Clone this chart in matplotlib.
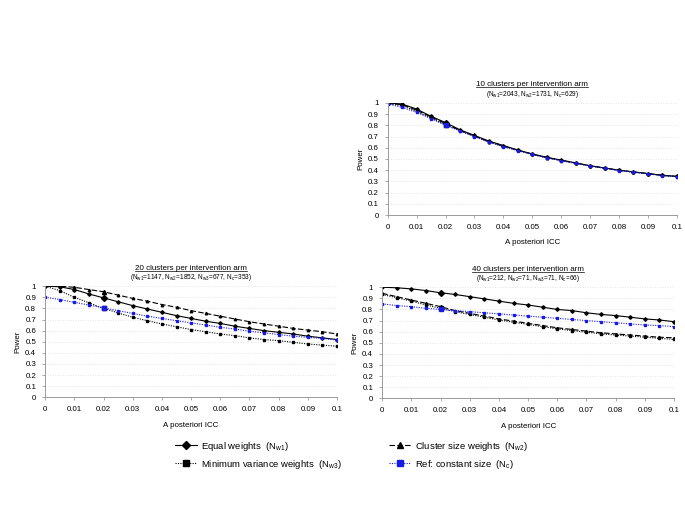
import numpy as np
import matplotlib
matplotlib.use('Agg')
import matplotlib.pyplot as plt
from matplotlib.lines import Line2D

plt.rcParams['font.family'] = ['Liberation Sans', 'DejaVu Sans']
plt.rcParams['mathtext.default'] = 'regular'

# A posteriori ICC values (x axis)
icc = [0, 0.005, 0.01, 0.015, 0.02, 0.025, 0.03, 0.035, 0.04, 0.045, 0.05,
       0.055, 0.06, 0.065, 0.07, 0.075, 0.08, 0.085, 0.09, 0.095, 0.1]

# 10 clusters per arm
p10_equal = [1.0, 0.99, 0.945, 0.88, 0.825, 0.76, 0.71, 0.66, 0.62, 0.58, 0.545,
             0.515, 0.49, 0.465, 0.44, 0.42, 0.40, 0.385, 0.37, 0.355, 0.345]
p10_size = [0.995, 0.985, 0.935, 0.875, 0.815, 0.755, 0.705, 0.655, 0.615, 0.578, 0.543,
            0.513, 0.488, 0.463, 0.439, 0.419, 0.399, 0.384, 0.369, 0.354, 0.344]
p10_minvar = [0.995, 0.975, 0.925, 0.865, 0.805, 0.752, 0.702, 0.652, 0.612, 0.576, 0.541,
              0.511, 0.486, 0.462, 0.438, 0.418, 0.398, 0.383, 0.368, 0.353, 0.343]
p10_ref = [0.99, 0.96, 0.915, 0.86, 0.80, 0.75, 0.70, 0.65, 0.61, 0.575, 0.54,
           0.51, 0.485, 0.461, 0.437, 0.417, 0.397, 0.382, 0.367, 0.352, 0.343]

# 20 clusters per arm
p20_equal = [1.0, 0.995, 0.97, 0.93, 0.895, 0.86, 0.825, 0.795, 0.765, 0.735, 0.71,
             0.685, 0.665, 0.64, 0.62, 0.60, 0.585, 0.57, 0.55, 0.535, 0.52]
p20_size = [1.0, 1.0, 0.99, 0.97, 0.95, 0.92, 0.89, 0.865, 0.835, 0.81, 0.78,
            0.755, 0.73, 0.705, 0.68, 0.66, 0.64, 0.62, 0.605, 0.59, 0.57]
p20_minvar = [1.0, 0.96, 0.90, 0.85, 0.80, 0.76, 0.72, 0.69, 0.66, 0.635, 0.61,
              0.59, 0.57, 0.555, 0.535, 0.52, 0.51, 0.495, 0.48, 0.47, 0.46]
p20_ref = [0.90, 0.88, 0.855, 0.83, 0.805, 0.78, 0.755, 0.73, 0.71, 0.69, 0.67,
           0.65, 0.63, 0.615, 0.595, 0.58, 0.565, 0.55, 0.54, 0.53, 0.515]

# 40 clusters per arm
p40_equal = [1.0, 0.995, 0.985, 0.97, 0.95, 0.935, 0.915, 0.895, 0.875, 0.855, 0.84,
             0.82, 0.80, 0.79, 0.77, 0.755, 0.745, 0.73, 0.715, 0.705, 0.69]
p40_size = [0.945, 0.915, 0.885, 0.855, 0.825, 0.79, 0.765, 0.74, 0.715, 0.695, 0.675,
            0.655, 0.635, 0.62, 0.605, 0.59, 0.58, 0.57, 0.56, 0.55, 0.545]
p40_minvar = [0.935, 0.905, 0.875, 0.84, 0.81, 0.78, 0.755, 0.73, 0.705, 0.685, 0.665,
              0.645, 0.625, 0.61, 0.595, 0.58, 0.57, 0.56, 0.55, 0.54, 0.53]
p40_ref = [0.85, 0.835, 0.825, 0.81, 0.80, 0.79, 0.78, 0.77, 0.76, 0.75, 0.74,
           0.73, 0.72, 0.71, 0.70, 0.69, 0.68, 0.67, 0.66, 0.655, 0.645]

titles = ['10 clusters per intervention arm',
          '20 clusters per intervention arm',
          '40 clusters per intervention arm']
subtitles = ['(N$_{w1}$=2043, N$_{w2}$=1731, N$_{c}$=629)',
             '(N$_{w1}$=1147, N$_{w2}$=1852, N$_{w3}$=677, N$_{c}$=353)',
             '(N$_{w1}$=212, N$_{w2}$=71, N$_{w3}$=71, N$_{c}$=66)']
panels = [
    (p10_equal, p10_size, p10_minvar, p10_ref),
    (p20_equal, p20_size, p20_minvar, p20_ref),
    (p40_equal, p40_size, p40_minvar, p40_ref),
]
legend_labels = ['Equal weights  (N$_{w1}$)', 'Cluster size weights  (N$_{w2}$)',
                 'Minimum variance weights  (N$_{w3}$)', 'Ref: constant size  (N$_{c}$)']

blue = '#1a1ae6'
styles = [
    dict(color='black', ls='-', marker='D'),
    dict(color='black', ls=(0, (5, 2)), marker='^'),
    dict(color='black', ls=(0, (1, 1.2)), marker='s'),
    dict(color=blue, ls=(0, (1, 1.2)), marker='s'),
]

fig = plt.figure(figsize=(6.85, 5.12), dpi=100)
ax_rects = [
    [0.566, 0.580, 0.422, 0.219],
    [0.066, 0.224, 0.426, 0.217],
    [0.558, 0.222, 0.426, 0.217],
]

spine_col = '#9a9a9a'
axes = []
for rect, series, title, sub in zip(ax_rects, panels, titles, subtitles):
    ax = fig.add_axes(rect)
    axes.append(ax)
    for ys, st in zip(series, styles):
        ax.plot(icc, ys, color=st['color'], ls=st['ls'], lw=0.8,
                marker=st['marker'], ms=1.8, mec=st['color'], mfc=st['color'])
        # the highlighted point at ICC = 0.02
        ax.plot(icc[4], ys[4], ls='none', marker=st['marker'], ms=3.0,
                color=st['color'])
    ax.set_xlim(0, 0.1)
    ax.set_ylim(0, 1.0)
    ax.set_xticks(np.arange(0, 0.1001, 0.01))
    ax.set_xticklabels([f'{v:g}' for v in np.round(np.arange(0, 0.1001, 0.01), 2)])
    ax.set_yticks(np.arange(0, 1.001, 0.1))
    ax.set_yticklabels([f'{v:g}' for v in np.round(np.arange(0, 1.001, 0.1), 1)])
    ax.yaxis.grid(True, color='#dcdcdc', ls=(0, (1, 2)), lw=0.6)
    ax.set_axisbelow(True)
    for s in ['top', 'right']:
        ax.spines[s].set_visible(False)
    for s in ['left', 'bottom']:
        ax.spines[s].set_color(spine_col)
        ax.spines[s].set_linewidth(0.7)
    ax.tick_params(labelsize=5.7, length=2, width=0.6, color=spine_col, pad=4.5)
    ax.set_xlabel('A posteriori ICC', fontsize=5.7, labelpad=6)
    ax.set_ylabel('Power', fontsize=5.7, labelpad=2.5)
    ax.annotate(title, xy=(0.5, 1), xycoords='axes fraction', xytext=(0, 13),
                textcoords='offset points', ha='center', va='center', fontsize=5.8)
    ax.annotate(sub, xy=(0.5, 1), xycoords='axes fraction', xytext=(0, 6),
                textcoords='offset points', ha='center', va='center', fontsize=4.7)

handles = []
for st in styles:
    handles.append(Line2D([], [], color=st['color'], ls=st['ls'], lw=0.8,
                          marker=st['marker'], ms=4.5, mec=st['color'], mfc=st['color']))
order = [0, 2, 1, 3]
fig.legend([handles[i] for i in order], [legend_labels[i] for i in order],
           ncol=2, loc='center left', bbox_to_anchor=(0.255, 0.111), frameon=False,
           fontsize=6.8, handlelength=2.4, handletextpad=0.35, columnspacing=5.0,
           labelspacing=0.55, borderpad=0, borderaxespad=0)

# underline panel titles
fig.canvas.draw()
renderer = fig.canvas.get_renderer()
inv = fig.transFigure.inverted()
for ax in axes:
    t = ax.texts[0]
    bb = t.get_window_extent(renderer)
    (x0, y0), (x1, y1) = inv.transform([(bb.x0, bb.y0), (bb.x1, bb.y0)])
    fig.add_artist(Line2D([x0, x1], [y0 + 0.002, y0 + 0.002], color='black', lw=0.5,
                          transform=fig.transFigure))

fig.savefig('out.png', dpi=100)
